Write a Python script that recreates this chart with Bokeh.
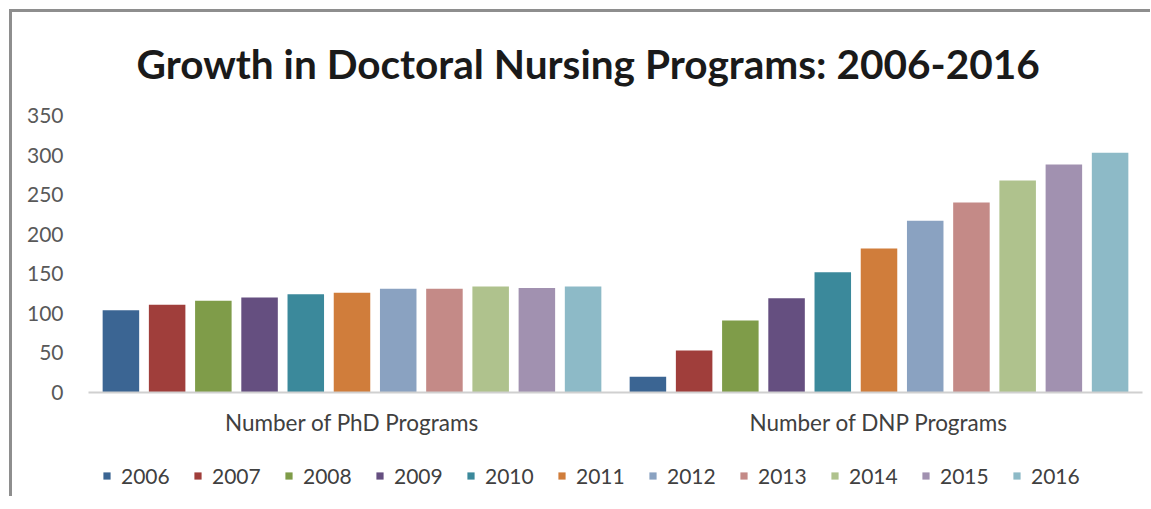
from bokeh.plotting import figure
from bokeh.layouts import column
from bokeh.models import ColumnDataSource, FactorRange, Legend, LegendItem, Range1d
from bokeh.transform import dodge
from bokeh.embed import file_html
from bokeh.resources import INLINE

categories = ["Number of PhD Programs", "Number of DNP Programs"]
years = ["2006", "2007", "2008", "2009", "2010", "2011", "2012", "2013", "2014", "2015", "2016"]
phd_programs = [104, 111, 116, 120, 124, 126, 131, 131, 134, 132, 134]
dnp_programs = [20, 53, 91, 119, 152, 182, 217, 240, 268, 288, 303]
colors = ["#3b6593", "#a03e3b", "#7f9c49", "#654f80", "#3b899b", "#d07d3b",
          "#8aa2c1", "#c48a87", "#afc28d", "#a191b0", "#8dbac7"]
y_ticks = [0, 50, 100, 150, 200, 250, 300, 350]

FONT = "Lato"

p = figure(x_range=FactorRange(factors=categories), y_range=(0, 350),
           frame_width=1054, frame_height=277, output_backend="svg", toolbar_location=None,
           min_border_left=76, min_border_right=8, min_border_top=103, min_border_bottom=64,
           title="Growth in Doctoral Nursing Programs: 2006-2016")

p.title.align = "left"
p.title.offset = 48
p.title.standoff = 51
p.title.vertical_align = "top"
p.title.text_font = FONT
p.title.text_font_style = "bold"
p.title.text_font_size = "40.6px"
p.title.text_color = "#1a1a1a"

pitch = 0.0877
bar_w = 0.0693
sources = []
for i, yr in enumerate(years):
    src = ColumnDataSource(dict(cat=categories, value=[phd_programs[i], dnp_programs[i]]))
    sources.append(src)
    p.vbar(x=dodge("cat", (i - 5) * pitch, range=p.x_range), top="value", width=bar_w,
           bottom=0, source=src, fill_color=colors[i], line_color=None)

p.xgrid.grid_line_color = None
p.ygrid.grid_line_color = None
p.outline_line_color = None

p.yaxis.ticker = y_ticks
p.yaxis.axis_line_color = None
p.yaxis.major_tick_line_color = None
p.yaxis.minor_tick_line_color = None
p.yaxis.major_label_standoff = 19
p.yaxis.major_label_text_font = FONT
p.yaxis.major_label_text_font_size = "21px"
p.yaxis.major_label_text_color = "#595959"

p.xaxis.axis_line_color = "#d0d0d0"
p.xaxis.axis_line_width = 2
p.xaxis.major_tick_line_color = None
p.xaxis.minor_tick_line_color = None
p.xaxis.major_label_standoff = 10
p.xaxis.major_label_text_font = FONT
p.xaxis.major_label_text_font_size = "22.5px"
p.xaxis.major_label_text_color = "#404040"

# legend strip: a second figure sharing the series (zero-size bars outside its view),
# so that the legend is drawn inside a frame and is not clipped
lg = figure(width=1138, height=40, x_range=p.x_range, y_range=Range1d(-2, -1),
            output_backend="svg", toolbar_location=None, min_border=0,
            x_axis_location=None, y_axis_location=None)
lg.xgrid.grid_line_color = None
lg.ygrid.grid_line_color = None
lg.outline_line_color = None
items = []
for i, yr in enumerate(years):
    r = lg.vbar(x=dodge("cat", (i - 5) * pitch, range=lg.x_range), top="value", width=0,
                bottom="value", source=sources[i], fill_color=colors[i], line_color=None)
    items.append(LegendItem(label=yr, renderers=[r]))
legend = Legend(items=items, orientation="horizontal", location=(14, 8),
                border_line_color=None, background_fill_alpha=0,
                glyph_width=9, glyph_height=9, label_standoff=10, spacing=22,
                label_width=50,
                label_text_font=FONT, label_text_font_size="21px", label_text_color="#404040",
                margin=0, padding=4)
lg.add_layout(legend)

layout = column(p, lg, spacing=0,
                styles={"margin-left": "9px", "margin-top": "9px",
                        "border-top": "3px solid #8e8e8e", "border-left": "3px solid #8e8e8e",
                        "border-right": "0", "border-bottom": "0"})

open("out.html", "w").write(file_html(layout, INLINE))
